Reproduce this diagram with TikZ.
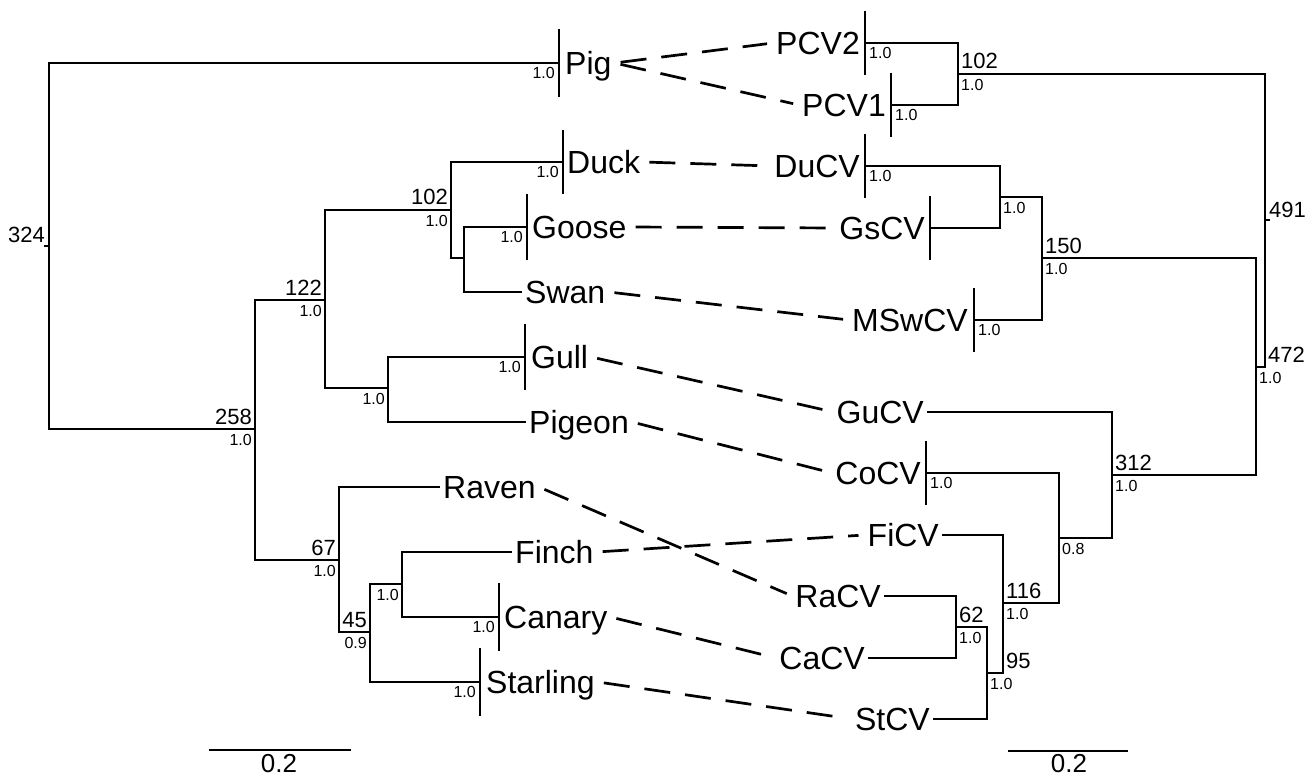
\documentclass[tikz,border=0pt]{standalone}
\usepackage{fontspec}
\setmainfont{Liberation Sans}
\tikzset{
  branch/.style={line width=2.7pt},
  assoc/.style={line width=2.7pt, dash pattern=on 26pt off 15pt, shorten <=6pt, shorten >=6pt},
  taxon/.style={font=\fontsize{32}{34}\selectfont, text height=23pt, text depth=0pt, inner xsep=3pt, inner ysep=0pt},
  cnt/.style={font=\fontsize{22}{24}\selectfont, inner sep=0pt},
  supp/.style={font=\fontsize{16}{18}\selectfont, inner sep=0pt},
  scl/.style={font=\fontsize{26}{28}\selectfont, inner sep=0pt}
}
\begin{document}
\begin{tikzpicture}[x=1pt,y=-1pt]
    \useasboundingbox (0,0) rectangle (1309,778);

    % host tree
    \coordinate (rootL) at (49,246);
    \coordinate (n258) at (255,429);
    \coordinate (n122) at (325,300);
    \coordinate (n102) at (451,210);
    \coordinate (nGS) at (464,258);
    \coordinate (nGP) at (388,388);
    \coordinate (n67) at (339,560);
    \coordinate (n45) at (370,632);
    \coordinate (nFC) at (402,584);

    \coordinate (PigTip) at (559,63);
    \coordinate (DuckTip) at (563,162);
    \coordinate (GooseTip) at (527,227);
    \coordinate (GullTip) at (525,357);
    \coordinate (CanaryTip) at (499,617);
    \coordinate (StarlingTip) at (480,682);

    \node[taxon,anchor=west] (Pig) at (562,63){Pig};
    \node[taxon,anchor=west] (Duck) at (564,162){Duck};
    \node[taxon,anchor=west] (Goose) at (529,227){Goose};
    \node[taxon,anchor=west] (Swan) at (522,292){Swan};
    \node[taxon,anchor=west] (Gull) at (528,357){Gull};
    \node[taxon,anchor=west] (Pigeon) at (526,422){Pigeon};
    \node[taxon,anchor=west] (Raven) at (440,487){Raven};
    \node[taxon,anchor=west] (Finch) at (512,552){Finch};
    \node[taxon,anchor=west] (Canary) at (501,617){Canary};
    \node[taxon,anchor=west] (Starling) at (483,682){Starling};

    \draw[branch] (rootL) |- (PigTip);
    \draw[branch] (rootL) |- (n258);
    \draw[branch] (n258) |- (n122);
    \draw[branch] (n258) |- (n67);
    \draw[branch] (n122) |- (n102);
    \draw[branch] (n122) |- (nGP);
    \draw[branch] (n102) |- (DuckTip);
    \draw[branch] (n102) |- (nGS);
    \draw[branch] (nGS) |- (GooseTip);
    \draw[branch] (nGS) |- (Swan.west);
    \draw[branch] (nGP) |- (GullTip);
    \draw[branch] (nGP) |- (Pigeon.west);
    \draw[branch] (n67) |- (Raven.west);
    \draw[branch] (n67) |- (n45);
    \draw[branch] (n45) |- (nFC);
    \draw[branch] (n45) |- (StarlingTip);
    \draw[branch] (nFC) |- (Finch.west);
    \draw[branch] (nFC) |- (CanaryTip);
    \draw[branch] (rootL) -- ++(-5,0);

    \draw[branch] (PigTip) ++(0,-34) -- ++(0,68);
    \draw[branch] (DuckTip) ++(0,-32) -- ++(0,64);
    \draw[branch] (GooseTip) ++(0,-33) -- ++(0,66);
    \draw[branch] (GullTip) ++(0,-33) -- ++(0,66);
    \draw[branch] (CanaryTip) ++(0,-34) -- ++(0,68);
    \draw[branch] (StarlingTip) ++(0,-34) -- ++(0,68);

    \node[cnt,anchor=base east] (l324) at (45,243){324};
    \node[cnt,anchor=base east] (l258) at (252,424){258};
    \node[supp,anchor=north east] (s258) at (252,434){1.0};
    \node[cnt,anchor=base east] (l122) at (322,295){122};
    \node[supp,anchor=north east] (s122) at (322,305){1.0};
    \node[cnt,anchor=base east] (l102) at (448,205){102};
    \node[supp,anchor=north east] (s102) at (448,215){1.0};
    \node[supp,anchor=north east] (sGP) at (385,393){1.0};
    \node[cnt,anchor=base east] (l67) at (336,555){67};
    \node[supp,anchor=north east] (s67) at (336,565){1.0};
    \node[cnt,anchor=base east] (l45) at (367,627){45};
    \node[supp,anchor=north east] (s45) at (367,637){0.9};
    \node[supp,anchor=north east] (sFC) at (399,589){1.0};
    \node[supp,anchor=north east] (sPig) at (555,67){1.0};
    \node[supp,anchor=north east] (sDuck) at (559,166){1.0};
    \node[supp,anchor=north east] (sGoose) at (523,231){1.0};
    \node[supp,anchor=north east] (sGull) at (521,361){1.0};
    \node[supp,anchor=north east] (sCanary) at (495,621){1.0};
    \node[supp,anchor=north east] (sStarling) at (476,686){1.0};

    % virus tree
    \coordinate (rootR) at (1265,220);
    \coordinate (nP) at (958,74);
    \coordinate (n472) at (1256,367);
    \coordinate (n150) at (1042,258);
    \coordinate (nDG) at (1000,197);
    \coordinate (n312) at (1112,475);
    \coordinate (n08) at (1059,538);
    \coordinate (n116) at (1003,603);
    \coordinate (n95) at (987,673);
    \coordinate (n62) at (956,627);

    \coordinate (PCVtwoTip) at (865,43);
    \coordinate (PCVoneTip) at (891,105);
    \coordinate (DuCVTip) at (865,166);
    \coordinate (GsCVTip) at (930,228);
    \coordinate (MSwCVTip) at (974,320);
    \coordinate (CoCVTip) at (926,473);

    \node[taxon,anchor=east] (PCVtwo) at (863,43){PCV2};
    \node[taxon,anchor=east] (PCVone) at (889,105){PCV1};
    \node[taxon,anchor=east] (DuCV) at (863,166){DuCV};
    \node[taxon,anchor=east] (GsCV) at (928,228){GsCV};
    \node[taxon,anchor=east] (MSwCV) at (971,320){MSwCV};
    \node[taxon,anchor=east] (GuCV) at (927,412){GuCV};
    \node[taxon,anchor=east] (CoCV) at (924,473){CoCV};
    \node[taxon,anchor=east] (FiCV) at (942,535){FiCV};
    \node[taxon,anchor=east] (RaCV) at (884,596){RaCV};
    \node[taxon,anchor=east] (CaCV) at (868,658){CaCV};
    \node[taxon,anchor=east] (StCV) at (933,719){StCV};

    \draw[branch] (rootR) |- (nP);
    \draw[branch] (rootR) |- (n472);
    \draw[branch] (nP) |- (PCVtwoTip);
    \draw[branch] (nP) |- (PCVoneTip);
    \draw[branch] (n472) |- (n150);
    \draw[branch] (n472) |- (n312);
    \draw[branch] (n150) |- (nDG);
    \draw[branch] (n150) |- (MSwCVTip);
    \draw[branch] (nDG) |- (DuCVTip);
    \draw[branch] (nDG) |- (GsCVTip);
    \draw[branch] (n312) |- (GuCV.east);
    \draw[branch] (n312) |- (n08);
    \draw[branch] (n08) |- (CoCVTip);
    \draw[branch] (n08) |- (n116);
    \draw[branch] (n116) |- (FiCV.east);
    \draw[branch] (n116) |- (n95);
    \draw[branch] (n95) |- (n62);
    \draw[branch] (n95) |- (StCV.east);
    \draw[branch] (n62) |- (RaCV.east);
    \draw[branch] (n62) |- (CaCV.east);
    \draw[branch] (rootR) -- ++(5,0);

    \draw[branch] (PCVtwoTip) ++(0,-32) -- ++(0,64);
    \draw[branch] (PCVoneTip) ++(0,-32) -- ++(0,64);
    \draw[branch] (DuCVTip) ++(0,-32) -- ++(0,64);
    \draw[branch] (GsCVTip) ++(0,-32) -- ++(0,64);
    \draw[branch] (MSwCVTip) ++(0,-32) -- ++(0,64);
    \draw[branch] (CoCVTip) ++(0,-32) -- ++(0,64);

    \node[cnt,anchor=base west] (l491) at (1269,218){491};
    \node[cnt,anchor=base west] (lP) at (961,69){102};
    \node[supp,anchor=north west] (sP) at (961,79){1.0};
    \node[cnt,anchor=base west] (l472) at (1268,362){472};
    \node[supp,anchor=north west] (s472) at (1259,372){1.0};
    \node[cnt,anchor=base west] (l150) at (1045,253){150};
    \node[supp,anchor=north west] (s150) at (1045,263){1.0};
    \node[supp,anchor=north west] (sDG) at (1003,202){1.0};
    \node[cnt,anchor=base west] (l312) at (1115,470){312};
    \node[supp,anchor=north west] (s312) at (1115,480){1.0};
    \node[supp,anchor=north west] (s08) at (1062,543){0.8};
    \node[cnt,anchor=base west] (l116) at (1006,598){116};
    \node[supp,anchor=north west] (s116) at (1006,608){1.0};
    \node[cnt,anchor=base west] (l95) at (1006,668){95};
    \node[supp,anchor=north west] (s95) at (990,678){1.0};
    \node[cnt,anchor=base west] (l62) at (959,622){62};
    \node[supp,anchor=north west] (s62) at (959,632){1.0};
    \node[supp,anchor=north west] (sPCVtwo) at (869,47){1.0};
    \node[supp,anchor=north west] (sPCVone) at (895,109){1.0};
    \node[supp,anchor=north west] (sDuCV) at (869,170){1.0};
    \node[supp,anchor=north west] (sMSwCV) at (978,324){1.0};
    \node[supp,anchor=north west] (sCoCV) at (930,477){1.0};

    % host -- virus pairs
    \draw[assoc] (Pig.east) -- (PCVtwo.west);
    \draw[assoc] (Pig.east) -- (PCVone.west);
    \draw[assoc] (Duck.east) -- (DuCV.west);
    \draw[assoc] (Goose.east) -- (GsCV.west);
    \draw[assoc] (Swan.east) -- (MSwCV.west);
    \draw[assoc] (Gull.east) -- (GuCV.west);
    \draw[assoc] (Pigeon.east) -- (CoCV.west);
    \draw[assoc] (Raven.east) -- (RaCV.west);
    \draw[assoc] (Finch.east) -- (FiCV.west);
    \draw[assoc] (Canary.east) -- (CaCV.west);
    \draw[assoc] (Starling.east) -- (StCV.west);

    % scale bars
    \coordinate (barLa) at (209,750);
    \coordinate (barLb) at (351,750);
    \coordinate (barRa) at (1008,751);
    \coordinate (barRb) at (1128,751);
    \draw[branch] (barLa) -- (barLb);
    \draw[branch] (barRa) -- (barRb);
    \node[scl,anchor=base] (scaleL) at (279,772){0.2};
    \node[scl,anchor=base] (scaleR) at (1069,772){0.2};
  \end{tikzpicture}
\end{document}
